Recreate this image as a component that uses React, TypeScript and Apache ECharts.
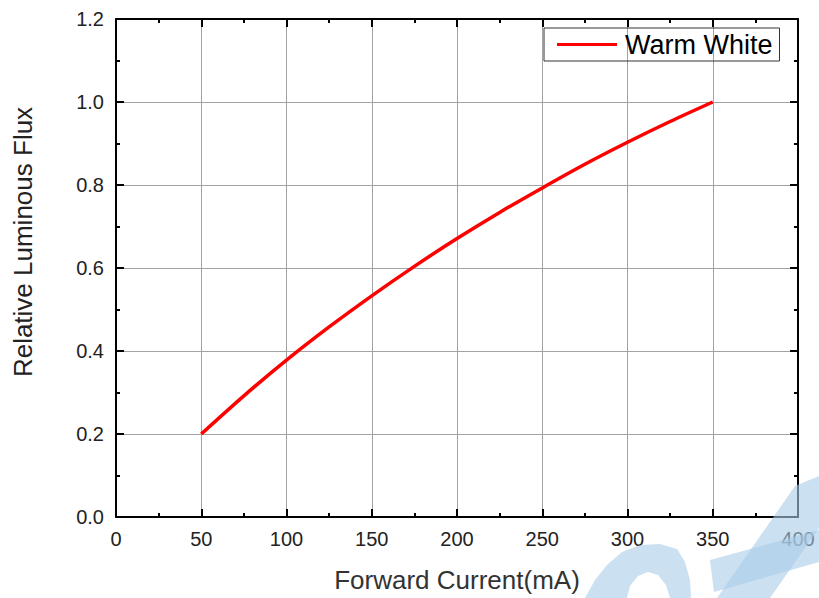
import React, { useEffect, useRef } from "react";
import * as echarts from "echarts";

const currents = [50, 75, 100, 125, 150, 175, 200, 225, 250, 275, 300, 325, 350];
const fluxValues = [0.2, 0.292, 0.378, 0.458, 0.533, 0.604, 0.671, 0.734, 0.793, 0.85, 0.903, 0.953, 1.0];
const seriesName = "Warm White";
const xAxisTitle = "Forward Current(mA)";
const yAxisTitle = "Relative Luminous Flux";

const FONT = "'Liberation Sans', Arial, sans-serif";

export default function App() {
  const ref = useRef<HTMLDivElement>(null);
  useEffect(() => {
    if (!ref.current) return;
    const chart = echarts.init(ref.current, undefined, { renderer: "svg" });
    const axisLine = { show: true, onZero: false, lineStyle: { color: "#000", width: 2 } };
    const axisTick = { show: true, inside: true, length: 8, lineStyle: { color: "#000", width: 2 } };
    const minorTick = { show: true, splitNumber: 2, length: 4, lineStyle: { color: "#000", width: 2 } };
    const grid = { show: true, lineStyle: { color: "#a3a3a3", width: 1 } };
    const wm = { fill: "#a9cbe8", opacity: 0.6 };
    chart.setOption({
      animation: false,
      textStyle: { fontFamily: FONT },
      grid: { left: 116, right: 21, top: 19, bottom: 79, containLabel: false },
      legend: {
        left: 544,
        top: 28,
        orient: "horizontal",
        borderColor: "#333",
        borderWidth: 1,
        borderRadius: 0,
        padding: [3, 7, 3, 13],
        itemWidth: 60,
        itemHeight: 3,
        itemGap: 8,
        icon: "rect",
        textStyle: { fontSize: 27, color: "#000", fontFamily: FONT, padding: [0, 0, 0, 3] },
        data: [seriesName],
      },
      xAxis: [
        {
          type: "value",
          min: 0,
          max: 400,
          interval: 50,
          position: "bottom",
          axisLine,
          axisTick,
          minorTick,
          splitLine: grid,
          axisLabel: { fontSize: 20, color: "#222", margin: 12, fontFamily: FONT },
          name: xAxisTitle,
          nameLocation: "middle",
          nameGap: 50,
          nameTextStyle: { fontSize: 26, color: "#333", fontFamily: FONT },
        },
        {
          type: "value",
          min: 0,
          max: 400,
          interval: 50,
          position: "top",
          axisLine,
          axisTick,
          minorTick,
          splitLine: { show: false },
          axisLabel: { show: false },
        },
      ],
      yAxis: [
        {
          type: "value",
          min: 0,
          max: 1.2,
          interval: 0.2,
          position: "left",
          axisLine,
          axisTick,
          minorTick,
          splitLine: grid,
          axisLabel: {
            fontSize: 20,
            color: "#222",
            margin: 12,
            fontFamily: FONT,
            formatter: (v: number) => v.toFixed(1),
          },
        },
        {
          type: "value",
          min: 0,
          max: 1.2,
          interval: 0.2,
          position: "right",
          axisLine,
          axisTick,
          minorTick,
          splitLine: { show: false },
          axisLabel: { show: false },
        },
      ],
      series: [
        {
          name: seriesName,
          type: "line",
          xAxisIndex: 0,
          yAxisIndex: 0,
          smooth: 0.3,
          symbol: "none",
          lineStyle: { color: "#ff0000", width: 3.5 },
          itemStyle: { color: "#ff0000" },
          data: currents.map((c, i) => [c, fluxValues[i]]),
          z: 5,
        },
      ],
      graphic: [
        {
          type: "text",
          x: 23,
          y: 242,
          rotation: Math.PI / 2,
          style: {
            text: yAxisTitle,
            fontSize: 26,
            fill: "#222",
            fontFamily: FONT,
            textAlign: "center",
            textVerticalAlign: "middle",
          },
        },
        {
          type: "polygon",
          z: 100,
          silent: true,
          shape: {
            points: [
              [585, 598], [595, 580], [607, 565], [622, 552], [640, 545], [660, 544], [677, 549],
              [685, 562], [690, 580], [691, 598], [670, 598], [666, 585], [658, 575], [648, 572],
              [638, 576], [630, 586], [627, 598],
            ],
          },
          style: wm,
        },
        {
          type: "polygon",
          z: 100,
          silent: true,
          shape: { points: [[717, 598], [795, 486], [819, 476], [819, 528], [770, 598]] },
          style: wm,
        },
        {
          type: "polygon",
          z: 100,
          silent: true,
          shape: { points: [[710, 560], [819, 530], [819, 562], [714, 592]] },
          style: wm,
        },
      ],
    });
    return () => chart.dispose();
  }, []);
  return <div ref={ref} style={{ width: 819, height: 598, position: "absolute", left: 0, top: 0, background: "#fff" }} />;
}
